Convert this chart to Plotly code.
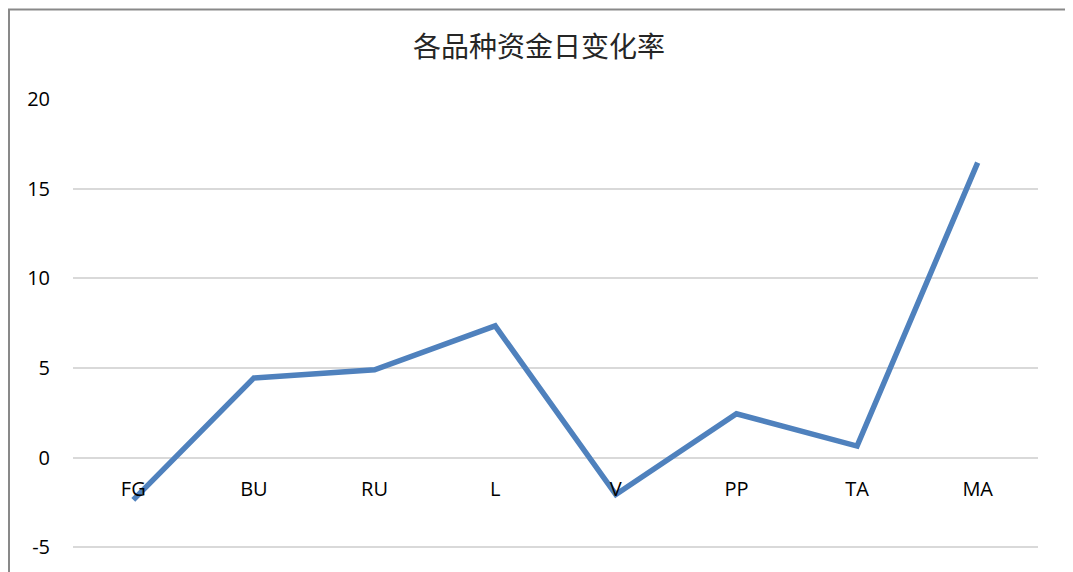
import plotly.graph_objects as go

categories = ["FG", "BU", "RU", "L", "V", "PP", "TA", "MA"]
values = [-2.35, 4.45, 4.9, 7.35, -2.05, 2.45, 0.65, 16.45]
y_ticks = [-5, 0, 5, 10, 15, 20]
y_tick_text = ["-5", "0", "5", "10", "15", "20"]

OFF = 8  # page body margin
W, H = 1073 - OFF, 572 - OFF
ml, mr, mt, mb = 73 - OFF, 35, 99 - OFF, 0
y_min, y_max = -6.37, 20
zero_pos = (0 - y_min) / (y_max - y_min)
pw, ph = W - ml - mr, H - mt - mb

fig = go.Figure()
fig.add_trace(go.Scatter(
    x=list(range(len(categories))), y=values, mode="lines",
    line=dict(color="#4F81BD", width=5.5), hoverinfo="skip", showlegend=False,
))

fig.update_layout(
    width=W, height=H,
    margin=dict(l=ml, r=mr, t=mt, b=mb, pad=0),
    paper_bgcolor="white", plot_bgcolor="white",
    title=dict(text="各品种资金日变化率", x=(539 - OFF) / W, xref="container", xanchor="center",
               y=(H - (47 - OFF)) / H, yref="container", yanchor="middle",
               font=dict(family="Noto Sans CJK SC", size=28, color="#262626")),
    font=dict(family="Open Sans", size=20, color="#111111"),
    xaxis=dict(range=[-0.5, len(categories) - 0.5], tickvals=list(range(len(categories))),
               ticktext=categories, showgrid=False, zeroline=False, showline=False,
               ticks="", anchor="free", position=zero_pos, ticklabelstandoff=17,
               tickfont=dict(family="Open Sans", size=20, color="#000000")),
    yaxis=dict(range=[y_min, y_max], tickvals=y_ticks, ticktext=y_tick_text, showgrid=True,
               gridcolor="#D9D9D9", gridwidth=1.5, zeroline=False, showline=False,
               ticks="", ticklabelstandoff=22,
               tickfont=dict(family="Open Sans", size=20, color="#000000")),
    shapes=[dict(type="rect", xref="paper", yref="paper",
                 x0=(9 - 73) / pw, x1=(1068 - 73) / pw,
                 y0=-0.05, y1=(572 - 9.5) / ph,
                 line=dict(color="#898989", width=2), fillcolor="rgba(0,0,0,0)", layer="below")],
)

fig.write_html("out.html")
